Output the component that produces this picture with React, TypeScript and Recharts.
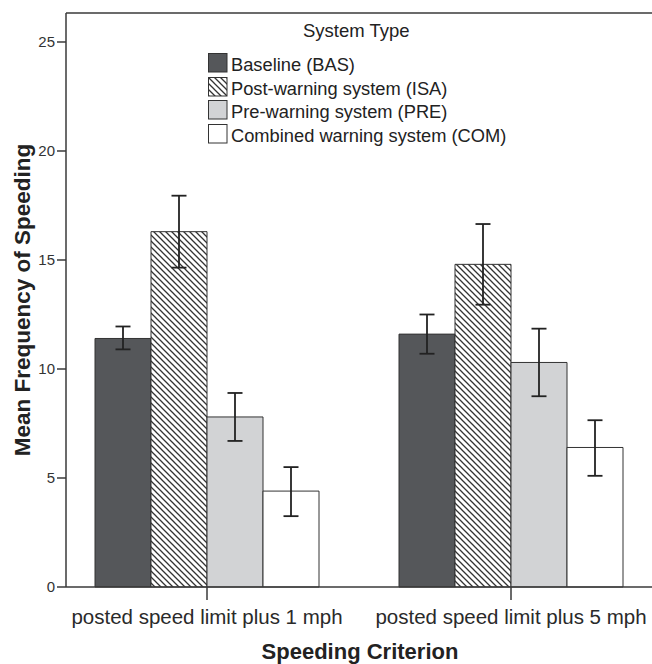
import React from "react";
import {
  BarChart,
  Bar,
  XAxis,
  YAxis,
  ErrorBar,
  Legend,
  ReferenceLine,
} from "recharts";

const FONT = '"Liberation Sans", Arial, Helvetica, sans-serif';

// Speeding criterion categories
const CRITERIA = ["posted speed limit plus 1 mph", "posted speed limit plus 5 mph"];

// Mean frequency of speeding per system, one value per criterion
const BAS = [11.4, 11.6];
const ISA = [16.3, 14.8];
const PRE = [7.8, 10.3];
const COM = [4.4, 6.4];

// Confidence interval bounds (lower / upper)
const BAS_LO = [10.9, 10.7];
const BAS_HI = [11.95, 12.5];
const ISA_LO = [14.65, 12.95];
const ISA_HI = [17.95, 16.65];
const PRE_LO = [6.7, 8.75];
const PRE_HI = [8.9, 11.85];
const COM_LO = [3.25, 5.1];
const COM_HI = [5.5, 7.65];

const Y_TICKS = [0, 5, 10, 15, 20, 25];
const Y_MAX = 26.33;

const SYSTEMS = [
  { key: "BAS", name: "Baseline (BAS)", fill: "#55575a", values: BAS, lo: BAS_LO, hi: BAS_HI },
  { key: "ISA", name: "Post-warning system (ISA)", fill: "url(#hatch)", values: ISA, lo: ISA_LO, hi: ISA_HI },
  { key: "PRE", name: "Pre-warning system (PRE)", fill: "#d2d3d5", values: PRE, lo: PRE_LO, hi: PRE_HI },
  { key: "COM", name: "Combined warning system (COM)", fill: "#ffffff", values: COM, lo: COM_LO, hi: COM_HI },
];

const data = CRITERIA.map((criterion, i) => {
  const row: Record<string, any> = { criterion };
  SYSTEMS.forEach((s) => {
    const v = s.values[i];
    row[s.key] = v;
    row[`${s.key}_err`] = [v - s.lo[i], s.hi[i] - v];
  });
  return row;
});

const HatchPattern = ({ id }: { id: string }) => (
  <pattern id={id} patternUnits="userSpaceOnUse" width={6} height={6}>
    <rect width={6} height={6} fill="#ffffff" />
    <path
      d="M0,0 L6,6 M-1,5 L1,7 M5,-1 L7,1"
      stroke="#333333"
      strokeWidth={1.3}
    />
  </pattern>
);

const SystemLegend = () => (
  <div style={{ fontFamily: FONT, color: "#222222", fontSize: 18 }}>
    <div style={{ marginLeft: 95, lineHeight: "22px", height: 22, fontSize: 18.5 }}>System Type</div>
    <div style={{ height: 11 }} />
    {SYSTEMS.map((s) => (
      <div key={s.key} style={{ display: "flex", height: 23.6 }}>
        <svg width={20} height={20} style={{ display: "block" }}>
          <defs>
            <HatchPattern id="hatch-legend" />
          </defs>
          <rect
            x={0.5}
            y={0.5}
            width={18.5}
            height={18.5}
            fill={s.key === "ISA" ? "url(#hatch-legend)" : s.fill}
            stroke="#333333"
            strokeWidth={1}
          />
        </svg>
        <span style={{ marginLeft: 3, lineHeight: "23px", whiteSpace: "nowrap", fontSize: 18.3 }}>
          {s.name}
        </span>
      </div>
    ))}
  </div>
);

const YTitle = ({ viewBox }: any) => {
  const x = viewBox.x + 30;
  const y = viewBox.y + viewBox.height / 2;
  return (
    <text
      x={x}
      y={y}
      transform={`rotate(-90, ${x}, ${y})`}
      textAnchor="middle"
      fontFamily={FONT}
      fontSize={22.5}
      fontWeight="bold"
      fill="#222222"
    >
      Mean Frequency of Speeding
    </text>
  );
};

const XTitle = ({ viewBox }: any) => (
  <text
    x={viewBox.x + viewBox.width / 2 + 1}
    y={viewBox.y + 72}
    textAnchor="middle"
    fontFamily={FONT}
    fontSize={22}
    fontWeight="bold"
    fill="#222222"
  >
    Speeding Criterion
  </text>
);

export default function App() {
  return (
    <div style={{ position: "absolute", left: 0, top: 0, width: 652, height: 664, background: "#fff" }}>
      <BarChart
        width={652}
        height={664}
        data={data}
        margin={{ top: 13, right: 0, bottom: 0, left: 0 }}
        barCategoryGap={40}
        barGap={0}
      >
        <defs>
          <HatchPattern id="hatch" />
        </defs>
        <XAxis
          dataKey="criterion"
          height={77}
          padding={{ left: -11, right: -11 }}
          tickSize={13}
          tickMargin={9}
          axisLine={{ stroke: "#3a3a3a", strokeWidth: 1.5 }}
          tickLine={{ stroke: "#3a3a3a", strokeWidth: 1.5 }}
          tick={{ fill: "#2a2a2a", fontSize: 20.5, fontFamily: FONT }}
          label={<XTitle />}
        />
        <YAxis
          width={66}
          domain={[0, Y_MAX]}
          ticks={Y_TICKS}
          tickSize={9}
          tickMargin={2}
          axisLine={{ stroke: "#3a3a3a", strokeWidth: 1.5 }}
          tickLine={{ stroke: "#3a3a3a", strokeWidth: 1.5 }}
          tick={{ fill: "#333333", fontSize: 15, fontFamily: FONT }}
          label={<YTitle />}
        />
        <ReferenceLine y={Y_MAX} stroke="#3a3a3a" strokeWidth={1.5} />
        <Legend
          verticalAlign="middle"
          align="center"
          layout="horizontal"
          content={<SystemLegend />}
          wrapperStyle={{ top: 20, left: 208, width: 330 }}
        />
        {SYSTEMS.map((s) => (
          <Bar
            key={s.key}
            dataKey={s.key}
            name={s.name}
            fill={s.fill}
            stroke="#333333"
            strokeWidth={1}
            isAnimationActive={false}
          >
            <ErrorBar
              dataKey={`${s.key}_err`}
              width={7.5}
              stroke="#222222"
              strokeWidth={1.8}
              direction="y"
            />
          </Bar>
        ))}
      </BarChart>
    </div>
  );
}
